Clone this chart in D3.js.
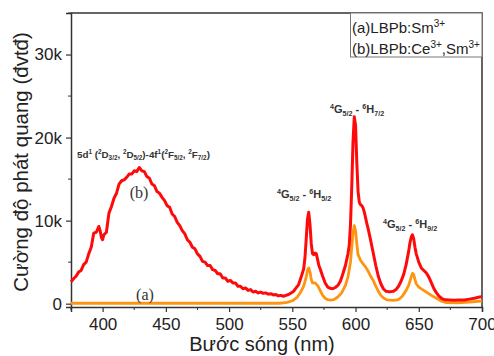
<!DOCTYPE html>
<html>
<head>
<meta charset="utf-8">
<script src="https://cdn.jsdelivr.net/npm/d3@7"></script>
<style>
    body { margin: 0; background: #fff; }
    svg text { font-family: Arial, "Liberation Sans", sans-serif; }
</style>
</head>
<body>
<svg id="chart" width="494" height="356"></svg>
<script>
// spectrum (b) LBPb:Ce3+,Sm3+
let redWave = [375,377,379,381,383,385,387,389,391,393,395,397,398,399,400,401,403,405,407,409,411,413,415,417,419,421,423,425,427,429,431,433,435,437,439,441,443,445,447,449,451,453,455,457,459,461,463,465,467,469,471,473,475,477,479,481,483,485,487,489,491,493,495,497,499,501,503,505,507,509,511,513,515,517,519,521,523,525,527,529,531,533,535,537,539,541,543,545,547,549,551,553,555,557,559,560,561,562,563,564,565,566,567,568,569,570,571,572,574,576,578,580,582,584,586,588,590,592,594,595,596,597,598,599,600,601,602,603,604,605,606,607,608,609,610,612,614,616,618,620,622,624,626,628,630,632,634,636,638,640,642,643,644,645,646,647,648,650,652,654,656,658,660,662,664,666,668,670,674,678,682,686,690,694,698,700]
let redValue = [2650,3000,3300,3800,4000,4700,5000,6000,6800,8500,8600,9300,8800,8000,7700,8300,8600,10900,11700,12700,13300,14400,14800,14900,15200,15600,15600,16000,15900,16400,16000,15900,15300,15100,14400,14200,13500,13300,12800,12400,11800,11600,10800,10500,9800,9400,8800,8400,7700,7400,6800,6600,6000,5700,5100,5000,4600,4600,4100,4000,3600,3600,3100,3100,2700,2800,2500,2500,2100,2100,1800,1900,1600,1700,1400,1500,1300,1400,1250,1300,1150,1200,1050,1100,950,1000,900,1000,1100,1300,1500,1900,2300,3200,4200,5500,7800,10200,11000,9500,7200,6000,5900,6100,6000,5300,4600,4200,3300,2500,2000,1850,1800,1950,2200,2700,3600,4600,6000,7000,9500,14000,19500,22500,21500,17000,13500,12200,11900,11800,11500,11000,10300,9600,9000,7600,6100,4600,3300,2400,1800,1500,1450,1450,1500,1700,2100,2700,3500,4700,6300,7300,8000,8300,7800,6800,6000,5000,4300,4000,3700,3200,2500,1800,1300,900,650,500,450,400,430,450,550,650,800,850]

// spectrum (a) LBPb:Sm3+
let orangeWave = [375,540,546,550,554,557,559,561,562,563,564,565,566,568,570,572,574,576,578,580,583,586,589,592,594,596,597,598,599,600,601,602,604,606,608,610,612,614,616,618,620,622,625,630,634,637,640,642,644,645,646,647,648,650,653,656,660,664,668,672,680,690,700]
let orangeValue = [50,50,150,350,800,1500,2100,3200,4000,4300,3800,2900,2500,2500,2200,1600,1000,650,480,440,500,800,1300,2200,3200,5000,6800,8500,9400,8800,7200,5900,5200,4800,4400,3900,3300,2800,2100,1500,1000,700,450,400,500,900,1600,2200,3200,3650,3500,2900,2400,2000,1700,1400,1000,650,300,130,100,200,300]

let xTicks = [400, 450, 500, 550, 600, 650, 700]
let xMinor = [375, 425, 475, 525, 575, 625, 675]
let yTicks = [0, 10000, 20000, 30000]
let yMinor = [5000, 15000, 25000, 35000]
let yTickLabels = ["0", "10k", "20k", "30k"]

let legendRows = [
    {text: "(a)LBPb:Sm", ions: [["Sm", "3+"]]},
    {text: "(b)LBPb:Ce", ions: [["Ce", "3+"], ["Sm", "3+"]]},
]

let width = 494, height = 356
let margin = {top: 13, right: 12, bottom: 49, left: 71}
let svg = d3.select("#chart")

let x = d3.scaleLinear().domain([375, 700]).range([margin.left, width - margin.right])
let y = d3.scaleLinear().domain([-400, 35000]).range([height - margin.bottom, margin.top])

let axisColor = "#333"

// frame top + right
svg.append("path")
    .attr("fill", "none")
    .attr("stroke", axisColor)
    .attr("stroke-width", 1.5)
    .attr("d", `M ${x(375)},${y(35000)} H ${x(700)} V ${y(-400)}`)

let xAxis = svg.append("g")
    .attr("transform", `translate(0,${y(-400)})`)
    .call(d3.axisBottom(x).tickValues(xTicks).tickSize(5).tickPadding(6).tickFormat(d3.format("d")))
xAxis.append("g")
    .selectAll("line")
    .data(xMinor)
    .join("line")
        .attr("x1", d => x(d)).attr("x2", d => x(d))
        .attr("y1", 0).attr("y2", 3)
        .attr("stroke", axisColor)

let yAxis = svg.append("g")
    .attr("transform", `translate(${x(375)},0)`)
    .call(d3.axisLeft(y).tickValues(yTicks).tickSize(5).tickPadding(4)
        .tickFormat((d, i) => yTickLabels[i]))
yAxis.append("g")
    .selectAll("line")
    .data(yMinor)
    .join("line")
        .attr("y1", d => y(d)).attr("y2", d => y(d))
        .attr("x1", 0).attr("x2", -3)
        .attr("stroke", axisColor)

for (let ax of [xAxis, yAxis]) {
    ax.select(".domain").attr("stroke", axisColor).attr("stroke-width", 1.5)
    ax.selectAll(".tick line").attr("stroke", axisColor).attr("stroke-width", 1.2)
    ax.selectAll(".tick text")
        .attr("fill", "#222")
        .style("font-size", "17px")
        .style("font-family", "Arial, 'Liberation Sans', sans-serif")
}

// spectra
let line = d3.line().x(d => x(d[0])).y(d => y(d[1]))

svg.append("path")
    .datum(d3.zip(orangeWave, orangeValue))
    .attr("fill", "none")
    .attr("stroke", "#ff9411")
    .attr("stroke-width", 2.8)
    .attr("stroke-linejoin", "round")
    .attr("d", line)

svg.append("path")
    .datum(d3.zip(redWave, redValue))
    .attr("fill", "none")
    .attr("stroke", "#ff0a0a")
    .attr("stroke-width", 3)
    .attr("stroke-linejoin", "round")
    .attr("d", line)

// axis titles
svg.append("text")
    .attr("x", 262)
    .attr("y", 351)
    .attr("text-anchor", "middle")
    .attr("fill", "#222")
    .style("font-size", "20px")
    .text("Bước sóng (nm)")

svg.append("text")
    .attr("transform", `translate(28,${(margin.top + height - margin.bottom) / 2 + 2}) rotate(-90)`)
    .attr("text-anchor", "middle")
    .attr("fill", "#222")
    .style("font-size", "20.5px")
    .text("Cường độ phát quang (đvtđ)")

// legend
let legend = svg.append("g")
legend.append("rect")
    .attr("x", 350.5).attr("y", y(35000))
    .attr("width", x(700) - 350.5).attr("height", 44)
    .attr("fill", "#fff")
    .attr("stroke", "#777")
    .attr("stroke-width", 1)
legendRows.forEach((row, i) => {
    let t = legend.append("text")
        .attr("x", 352)
        .attr("y", 33 + i * 21)
        .attr("fill", "#222")
        .style("font-size", "15px")
    t.append("tspan").text(row.text)
    row.ions.forEach(([name, charge], j) => {
        if (j > 0) t.append("tspan").attr("dy", "6").text("," + name)
        t.append("tspan").attr("dy", "-6").style("font-size", "10px").text(charge)
    })
})

// annotations with super/subscripts: parts are [text, kind]
function label(xPos, yPos, parts, size, weight) {
    let t = svg.append("text")
        .attr("x", xPos).attr("y", yPos)
        .attr("fill", "#333")
        .style("font-size", size + "px")
        .style("font-weight", weight)
    let shift = 0
    for (let [s, kind] of parts) {
        let target = kind === "sup" ? -size * 0.4 : kind === "sub" ? size * 0.25 : 0
        t.append("tspan")
            .attr("dy", target - shift)
            .style("font-size", kind ? (size * 0.65) + "px" : null)
            .text(s)
        shift = target
    }
    return t
}

function transition(lower, upper) {
    return [["4", "sup"], ["G", ""], [lower, "sub"], [" - ", ""], ["6", "sup"], ["H", ""], [upper, "sub"]]
}

label(77, 158, [["5d", ""], ["1", "sup"], [" (", ""], ["2", "sup"], ["D", ""], ["3/2", "sub"], [", ", ""],
    ["2", "sup"], ["D", ""], ["5/2", "sub"], [")-4f", ""], ["1", "sup"], ["(", ""], ["2", "sup"], ["F", ""],
    ["5/2", "sub"], [", ", ""], ["2", "sup"], ["F", ""], ["7/2", "sub"], [")", ""]], 9.8, "bold")
label(277, 198, transition("5/2", "5/2"), 11, "bold")
label(330, 113, transition("5/2", "7/2"), 11, "bold")
label(383, 228, transition("5/2", "9/2"), 11, "bold")

svg.append("text")
    .attr("x", 139).attr("y", 198)
    .attr("text-anchor", "middle")
    .attr("fill", "#333")
    .style("font-family", "'Liberation Serif', 'DejaVu Serif', serif")
    .style("font-size", "16px")
    .text("(b)")
svg.append("text")
    .attr("x", 145).attr("y", 300)
    .attr("text-anchor", "middle")
    .attr("fill", "#333")
    .style("font-family", "'Liberation Serif', 'DejaVu Serif', serif")
    .style("font-size", "16px")
    .text("(a)")
</script>
</body>
</html>
